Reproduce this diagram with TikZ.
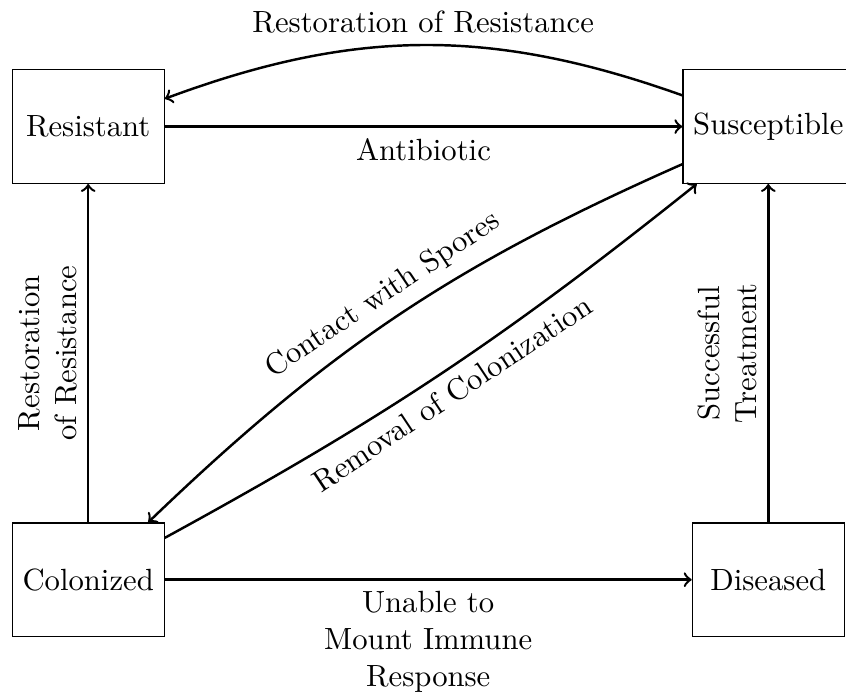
\documentclass[tikz,border=0pt]{standalone}
\tikzset{
    state/.style={draw, minimum width=1.74cm, minimum height=1.3cm},
    trans/.style={->, thick}
}
\begin{document}
\begin{tikzpicture}
    \useasboundingbox (-1.01, 1.45) rectangle (8.68, -6.5);

    \node[state] (resistant) at (0, 0) {Resistant};
    \node[state] (susceptible) at (7.79, 0) {Susceptible};
    \node[state] (colonized) at (0, -5.19) {Colonized};
    \node[state] (diseased) at (7.79, -5.19) {Diseased};

    \draw[trans] (resistant) -- node[below]{Antibiotic} (susceptible);
    \draw[trans] (susceptible) to[bend right=20] node[above]{Restoration of Resistance} (resistant);
    \draw[trans] (colonized) -- node[above, rotate=90, align=center]{Restoration\\of Resistance} (resistant);
    \draw[trans] (diseased) -- node[above, rotate=90, align=center]{Successful\\Treatment} (susceptible);
    \draw[trans] (colonized) -- node[below, align=center]{Unable to\\Mount Immune\\Response} (diseased);
    \draw[trans] (susceptible) to[bend right=10] node[above, sloped]{Contact with Spores} (colonized);
    \draw[trans] (colonized) to[bend right=5] node[below, sloped]{Removal of Colonization} (susceptible);
\end{tikzpicture}
\end{document}
